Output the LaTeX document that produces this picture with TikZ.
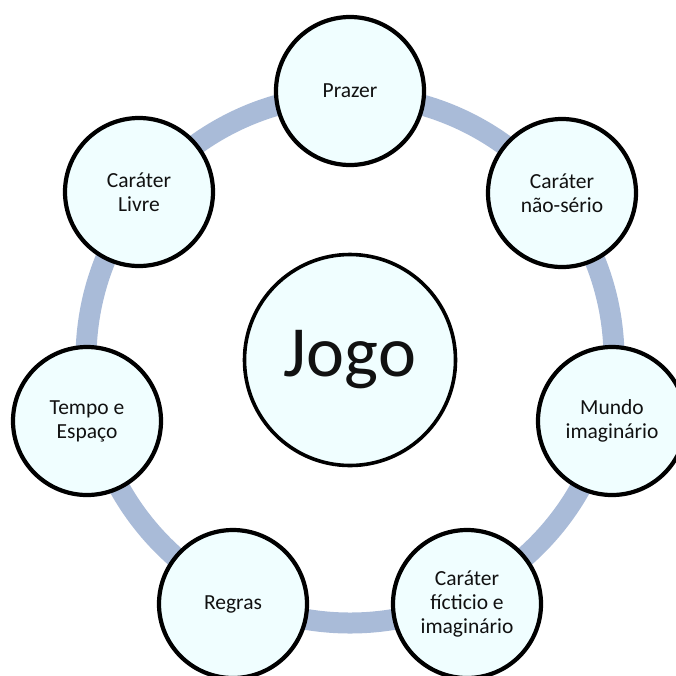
\documentclass[tikz,border=0pt]{standalone}
\usepackage{fontspec}
\setmainfont{Carlito}
\definecolor{ringblue}{HTML}{A9BBD8}
\definecolor{cellfill}{HTML}{F0FEFF}
\definecolor{txt}{HTML}{111111}
\begin{document}
\begin{tikzpicture}[x=1pt,y=-1pt,
  item/.style={circle, draw=black, line width=4.2pt, fill=cellfill, minimum size=148pt, inner sep=0pt,
    align=center, text=txt, font=\fontsize{21.5}{24}\selectfont},
  hub/.style={circle, draw=black, line width=3.6pt, fill=cellfill, minimum size=211pt, inner sep=0pt,
    text=txt, font=\fontsize{72}{80}\selectfont},
  ring/.style={draw=ringblue, line width=21pt}]
\useasboundingbox (0,0) rectangle (676,675);
\clip (0,0) rectangle (676,675);
\coordinate (c) at (350,359);
\draw[ring] (c) circle[radius=264];
\node[hub] (jogo) at (350,360) {Jogo};
\node[item] (prazer) at (350,91) {Prazer};
\node[item] (naoserio) at (562,193) {Caráter\\não-sério};
\node[item] (mundo) at (612,421) {Mundo\\imaginário};
\node[item] (ficticio) at (467,604) {Caráter\\fícticio e\\imaginário};
\node[item] (regras) at (233,604) {Regras};
\node[item] (tempo) at (87,421) {Tempo e\\Espaço};
\node[item] (livre) at (139,192) {Caráter\\Livre};
\end{tikzpicture}
\end{document}
